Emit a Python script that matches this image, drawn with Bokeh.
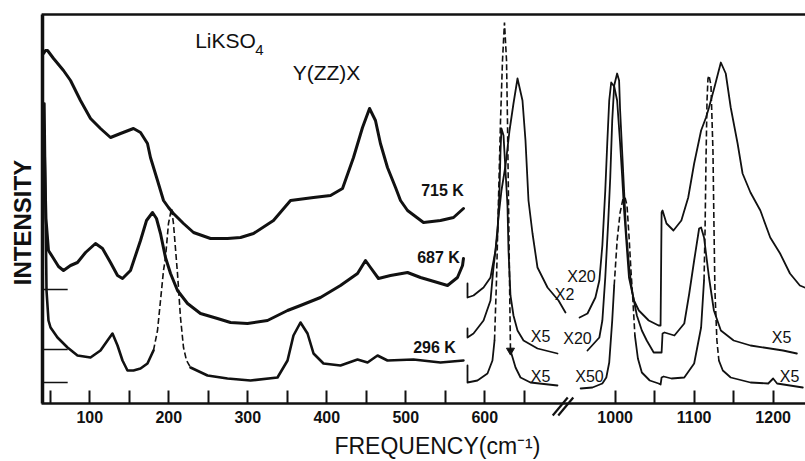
import math
from bokeh.plotting import figure
from bokeh.models import Range1d, FixedTicker, Label, LinearAxis
from bokeh.embed import file_html
from bokeh.resources import INLINE

# ---------------- data (frequency in cm^-1, intensity in arbitrary units) ----------------
# low-frequency section, three temperatures
f715_lo = [41.5, 43.9, 46.5, 54.1, 66.7, 75.6, 88.2, 100.9, 113.5, 126.2, 138.9, 155.3, 164.2, 173.0, 176.8,
           185.7, 193.3, 199.6, 205.9, 218.6, 231.3, 252.8, 274.3, 290.8, 307.2, 332.5, 354.1, 383.2, 404.7,
           419.9, 433.8, 445.2, 454.1, 461.6, 467.9, 476.8, 487.0, 493.3, 502.2, 522.4, 543.9, 560.4, 573.0]
i715_lo = [350, 353, 353, 345, 333, 323, 303, 285, 275, 266, 270, 275, 271, 260, 246,
           223, 203, 196, 190, 180, 171, 165, 165, 166, 170, 183, 203, 206, 208,
           215, 246, 276, 295, 283, 260, 236, 216, 203, 193, 181, 183, 186, 195]

f687_lo = [42.0, 44.5, 47.7, 54.1, 60.4, 66.7, 75.6, 84.4, 94.6, 107.2, 116.1, 126.2, 135.1, 141.4, 151.5,
           164.2, 171.8, 179.4, 184.4, 189.5, 195.8, 202.2, 211.0, 223.7, 240.1, 261.6, 278.1, 299.6, 324.9,
           350.3, 366.7, 392.0, 417.3, 438.9, 449.0, 455.3, 465.4, 480.6, 502.2, 518.6, 540.1, 552.8, 565.4,
           571.8, 573.0]
i687_lo = [270, 185, 153, 145, 137, 133, 138, 141, 151, 160, 155, 141, 128, 125, 133,
           163, 183, 191, 185, 170, 146, 130, 113, 100, 90, 85, 81, 80, 83,
           93, 98, 106, 118, 130, 143, 136, 125, 128, 131, 126, 121, 118, 126,
           138, 145]

f296_lo = [42.5, 45.2, 47.7, 50.3, 59.1, 71.8, 84.4, 100.9, 113.5, 122.4, 128.7, 135.1, 141.4, 147.7, 155.3,
           164.2, 173.0, 180.6, 185.7, 189.5, 193.3, 195.8, 199.6, 203.4, 205.9, 211.0, 214.8, 218.6, 222.4,
           227.5, 249.0, 274.3, 303.4, 337.6, 350.3, 357.8, 366.7, 375.6, 383.2, 395.8, 417.3, 438.9, 451.6,
           464.2, 476.8, 509.7, 543.9, 573.0]
i296_lo = [300, 113, 83, 76, 66, 56, 48, 46, 53, 63, 70, 58, 43, 33, 33,
           35, 40, 53, 73, 103, 133, 146, 180, 195, 180, 130, 86, 56, 43,
           36, 28, 25, 23, 26, 43, 68, 81, 70, 50, 40, 38, 44, 41,
           48, 43, 44, 41, 43]

# ~620 cm^-1 region (X2 / X5 / X5)
f715_mid = [578.1, 578.1, 585.7, 598.4, 607.2, 613.5, 617.3, 621.1, 626.2, 631.3, 636.3, 641.4, 647.7, 651.5,
            655.3, 660.4, 666.7, 679.4, 693.3, 702.1]
i715_mid = [120, 106, 108, 116, 126, 153, 186, 213, 238, 273, 300, 325, 303, 263, 203, 170, 136, 116, 103, 91]

f687_mid = [578.1, 578.1, 585.7, 598.4, 607.2, 611.0, 616.1, 618.6, 619.9, 621.1, 623.7, 626.2, 628.7, 630.0,
            632.5, 636.3, 641.4, 649.0, 666.7, 692.0]
i687_mid = [75, 66, 70, 83, 103, 136, 170, 213, 253, 275, 268, 233, 198, 153, 108, 88, 73, 63, 55, 50]

f296_mid = [578.1, 578.1, 590.7, 603.4, 609.7, 612.3, 614.8, 617.3, 619.9, 622.4, 624.9, 627.5, 628.7, 630.0,
            631.3, 632.5, 636.3, 638.9, 645.2, 657.8, 692.0]
i296_mid = [38, 21, 23, 30, 43, 63, 123, 203, 283, 343, 381, 343, 283, 203, 123, 53, 43, 36, 26, 21, 18]

# ~1000-1240 cm^-1 region
f715_hi = [955.0, 965.0, 975.0, 980.0, 983.8, 987.5, 990.0, 992.5, 995.0, 998.8, 1002.5, 1006.3, 1008.8, 1011.3,
           1015.0, 1017.5, 1023.8, 1030.0, 1042.5, 1055.0, 1057.5, 1058.8, 1060.0, 1065.0, 1073.8, 1083.8,
           1092.5, 1100.0, 1108.8, 1115.0, 1118.8, 1126.3, 1133.8, 1140.0, 1146.3, 1155.0, 1161.3, 1171.3,
           1183.8, 1196.3, 1208.8, 1221.3, 1233.8, 1240.0]
i715_hi = [86, 90, 106, 123, 158, 213, 260, 303, 321, 317, 303, 260, 228, 193,
           153, 126, 103, 93, 83, 78, 78, 191, 193, 180, 173, 183,
           206, 240, 273, 286, 296, 318, 341, 330, 296, 260, 230, 211,
           193, 166, 150, 130, 118, 116]

f687_hi = [965.0, 980.0, 983.8, 987.5, 991.3, 993.8, 996.3, 998.8, 1002.5, 1005.0, 1006.3, 1008.8, 1011.3,
           1013.8, 1017.5, 1021.3, 1027.5, 1033.8, 1040.0, 1048.8, 1053.8, 1056.3, 1058.8, 1060.0, 1062.5,
           1075.0, 1087.5, 1093.8, 1100.0, 1106.3, 1108.8, 1112.5, 1118.8, 1125.0, 1133.8, 1150.0, 1171.3,
           1212.5, 1230.0]
i687_hi = [53, 66, 83, 126, 183, 226, 283, 318, 330, 323, 293, 253, 213,
           173, 138, 113, 88, 73, 63, 51, 51, 51, 51, 70, 71,
           68, 80, 110, 143, 175, 176, 166, 126, 93, 73, 63, 58,
           53, 50]

f296_hi = [956.3, 971.3, 983.8, 988.8, 992.5, 996.3, 998.8, 1002.5, 1006.3, 1010.0, 1012.5, 1015.0, 1017.5,
           1020.0, 1022.5, 1025.0, 1028.8, 1033.8, 1043.8, 1055.0, 1057.5, 1058.8, 1061.3, 1071.3, 1087.5,
           1100.0, 1108.8, 1112.5, 1113.8, 1115.0, 1116.3, 1117.5, 1118.8, 1121.3, 1123.8, 1125.0, 1126.3,
           1128.8, 1131.3, 1136.3, 1146.3, 1171.3, 1193.8, 1200.0, 1205.0, 1221.3, 1237.5]
i296_hi = [15, 16, 20, 26, 41, 83, 118, 163, 191, 205, 206, 198, 168,
           133, 103, 68, 45, 31, 23, 20, 19, 26, 27, 25, 26,
           40, 76, 123, 173, 243, 303, 325, 328, 318, 253, 183, 113,
           63, 43, 33, 26, 21, 20, 25, 20, 18, 16]

# zero-level marks of the three spectra
baseline_levels = [114, 54, 21]

# tick labels
tick_labels_lo = [100, 200, 300, 400, 500, 600]
tick_labels_hi = [1000, 1100, 1200]

# ---------------- layout ----------------
SHIFT = 235          # axis break: the high-frequency part is drawn shifted left by this amount
X_LEFT, X_RIGHT = 40, 1006   # plotted frequency window (display units)
Y_TOP = 389
FONT = "Liberation Sans"
INK = "#111111"

# the frame covers the whole canvas; axes are placed at fixed locations inside it
p = figure(width=805, height=461, output_backend="svg", toolbar_location=None,
           x_range=Range1d(-13.04, 1005.95), y_range=Range1d(-58, 403),
           min_border=0, x_axis_type=None, y_axis_type=None)
p.grid.visible = False
p.outline_line_color = None
p.background_fill_color = "white"
p.border_fill_color = "white"

# x axis
ticks_lo = list(range(50, 651, 50))
ticks_hi = [v - SHIFT for v in range(1000, 1201, 50)]
overrides = {t: "" for t in ticks_lo + ticks_hi}
for v in tick_labels_lo:
    overrides[v] = str(v)
for v in tick_labels_hi:
    overrides[v - SHIFT] = str(v)
xaxis = LinearAxis(fixed_location=0, bounds=(X_LEFT - 1, X_RIGHT),
                   ticker=FixedTicker(ticks=ticks_lo + ticks_hi),
                   major_label_overrides=overrides,
                   axis_line_width=2.5, axis_line_color=INK,
                   major_tick_in=13, major_tick_out=0, major_tick_line_width=2,
                   major_tick_line_color=INK, minor_tick_line_color=None,
                   major_label_standoff=7, major_label_text_font=FONT,
                   major_label_text_font_style="bold", major_label_text_font_size="16px",
                   major_label_text_color=INK)
p.add_layout(xaxis, "below")

# y axis: only the thick line
yaxis = LinearAxis(fixed_location=X_LEFT, bounds=(0, Y_TOP),
                   axis_line_width=3.5, axis_line_color=INK,
                   major_tick_line_color=None, minor_tick_line_color=None,
                   major_label_text_font_size="0px", major_label_text_color=None)
p.add_layout(yaxis, "left")

# top border line
p.segment(x0=[X_LEFT - 1], y0=[Y_TOP], x1=[X_RIGHT], y1=[Y_TOP], line_color=INK, line_width=2.5)


def pieces(f, y, dashed_ranges, shift=0):
    x = [v - shift for v in f]
    segs = []
    for k in range(len(f) - 1):
        mid = 0.5 * (f[k] + f[k + 1])
        style = "dash" if any(a <= mid <= b for a, b in dashed_ranges) else "solid"
        if segs and segs[-1][0] == style:
            segs[-1][1].append(x[k + 1])
            segs[-1][2].append(y[k + 1])
        else:
            segs.append((style, [x[k], x[k + 1]], [y[k], y[k + 1]]))
    return segs


def draw(f, y, dashed=(), shift=0, width=1.8):
    for style, xs, ys in pieces(f, y, dashed, shift):
        if style == "dash":
            p.line(xs, ys, line_color=INK, line_width=1.6, line_dash="6 3")
        else:
            p.line(xs, ys, line_color=INK, line_width=width, line_join="round", line_cap="round")


draw(f715_lo, i715_lo, width=3)
draw(f687_lo, i687_lo, width=3)
draw(f296_lo, i296_lo, dashed=[(181, 226)], width=2.6)

draw(f715_mid, i715_mid)
draw(f687_mid, i687_mid)
draw(f296_mid, i296_mid, dashed=[(612, 633)])

draw(f715_hi, i715_hi, shift=SHIFT)
draw(f687_hi, i687_hi, shift=SHIFT)
draw(f296_hi, i296_hi, dashed=[(998, 1026), (1112, 1132)], shift=SHIFT)

# arrow head at the end of the dashed 296 K peak near 625 cm^-1
k_arrow = max(k for k, v in enumerate(f296_mid) if v <= 633)
p.scatter([f296_mid[k_arrow]], [i296_mid[k_arrow]], marker="inverted_triangle", size=8,
          fill_color=INK, line_color=INK)

# baseline marks at the left axis
n = len(baseline_levels)
p.segment(x0=[X_LEFT] * n, y0=baseline_levels, x1=[X_LEFT + 32] * n, y1=baseline_levels,
          line_color=INK, line_width=1.6)

# axis break marker "//"
BREAK = 697
p.segment(x0=[BREAK - 11, BREAK - 4], y0=[-12, -12], x1=[BREAK + 8, BREAK + 15], y1=[6, 6],
          line_color=INK, line_width=2.2)


def lab(x, y, text, size="16px", style="bold", angle=0.0):
    p.add_layout(Label(x=x, y=y, text=text, text_font=FONT, text_font_size=size,
                       text_font_style=style, text_color=INK, text_align="center",
                       text_baseline="middle", angle=angle))


lab(271.8, 363, "LiKSO", size="21px", style="normal")
lab(314.6, 354, "4", size="15px", style="normal")
lab(399.6, 331, "Y(ZZ)X", size="21px", style="normal")
lab(546.5, 213, "715 K", size="16px")
lab(541.4, 146, "687 K", size="16px")
lab(536.3, 56, "296 K", size="16px")
lab(701.0, 109, "X2", size="16px", style="normal")
lab(722.4, 127, "X20", size="16px", style="normal")
lab(670.5, 67, "X5", size="16px", style="normal")
lab(717.3, 65, "X20", size="16px", style="normal")
lab(670.5, 27, "X5", size="16px", style="normal")
lab(732.5, 27, "X50", size="16px", style="normal")
lab(975.6, 66, "X5", size="16px", style="normal")
lab(985.7, 27, "X5", size="16px", style="normal")

# axis titles
lab(540.0, -42, "FREQUENCY(cm\u207b\u00b9)", size="23px", style="normal")
lab(14.8, 181, "INTENSITY", size="24px", style="bold", angle=math.pi / 2)

open("out.html", "w").write(file_html(p, INLINE))
